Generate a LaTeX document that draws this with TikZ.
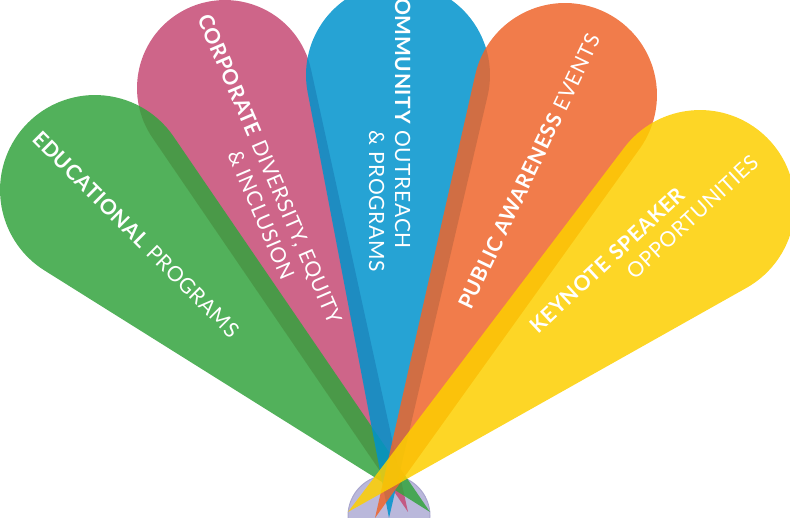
\documentclass[tikz,border=0pt]{standalone}
\usepackage{fontspec}
\setmainfont{Lato}[LetterSpace=3]
\usetikzlibrary{calc}

\definecolor{eduGreen}{HTML}{34A33E}
\definecolor{corpPink}{HTML}{C54A74}
\definecolor{commBlue}{HTML}{0093CC}
\definecolor{pubOrange}{HTML}{EE652B}
\definecolor{keySun}{HTML}{FDCF00}
\definecolor{hubLilac}{HTML}{BAB8DB}
\definecolor{hubRim}{HTML}{A9A6CE}

\begin{document}
\begin{tikzpicture}[x=1pt, y=1pt, every node/.style={inner sep=0pt, text=white, font=\fontsize{21}{26}\selectfont}, petal/.style={fill opacity=0.85}]
    \useasboundingbox (0,0) rectangle (790,518);
    \clip (0,0) rectangle (790,518);
    \node[circle, fill=hubLilac, draw=hubRim, line width=1pt, minimum size=82pt] (hub) at (389,2) {};
    % petals: name / tip / far centre / radius / colour
    \foreach \name/\tx/\ty/\cx/\cy/\rad/\col in {corp/408/6/225/430/88/corpPink, edu/430/6/95/328/95/eduGreen, comm/389/0/398/443/92/commBlue, pub/375/0/565/423/92/pubOrange, key/348/6/700/313/95/keySun}
    {
        \coordinate (\name tip) at (\tx,\ty);
        \coordinate (\name end) at (\cx,\cy);
        \fill[petal, fill=\col] let \p1 = ($(\name end)-(\name tip)$), \n1 = {veclen(\x1,\y1)}, \n2 = {atan2(\y1,\x1)}, \n3 = {asin(\rad/\n1)} in
            (\name tip) -- ++({\n2+\n3}:{\n1*cos(\n3)}) arc[start angle={\n2+\n3+90}, delta angle={-180-2*\n3}, radius=\rad] -- cycle;
    }
    \node[rotate=-45, anchor=base west] (eduText) at (31,378) {\textbf{EDUCATIONAL} PROGRAMS};
    \node[rotate=-66.8, anchor=base west] (corpText) at (197,500) {\textbf{CORPORATE} \begin{tabular}[t]{@{}l@{}}DIVERSITY, EQUITY\\\& INCLUSION\end{tabular}};
    \node[rotate=-90, anchor=base west] (commText) at (395,534) {\textbf{COMMUNITY} \begin{tabular}[t]{@{}l@{}}OUTREACH\\\& PROGRAMS\end{tabular}};
    \node[rotate=64.5, anchor=base west] (pubText) at (471,207) {\textbf{PUBLIC AWARENESS} EVENTS};
    \node[rotate=42.9, anchor=base west] (keyText) at (538,183) {\textbf{KEYNOTE} \begin{tabular}[t]{@{}l@{}}\textbf{SPEAKER}\\OPPORTUNITIES\end{tabular}};
\end{tikzpicture}
\end{document}
